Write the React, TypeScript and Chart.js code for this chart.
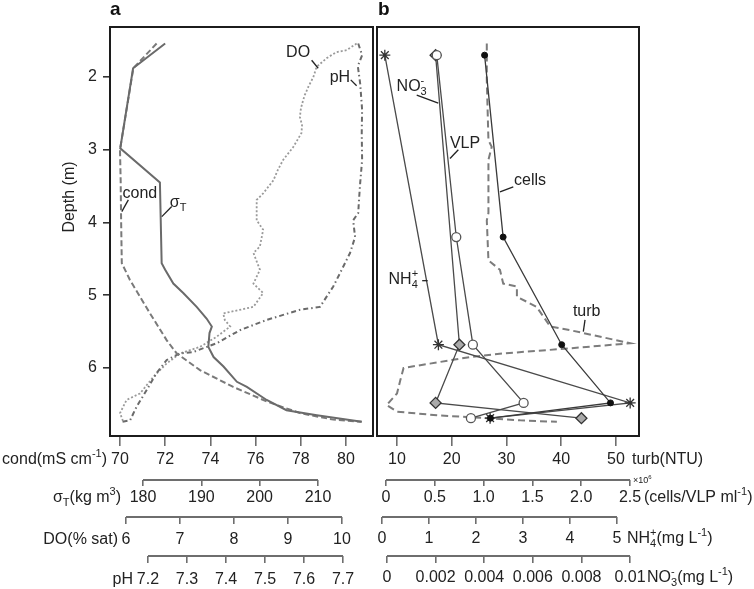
import React, { useEffect, useRef } from 'react';
import { Chart, registerables } from 'chart.js';
Chart.register(...registerables);

// ---------- Panel a data (x value, depth m) ----------
const condDepth = [1.54, 1.88, 3.0, 3.42, 3.97, 4.56, 4.79, 5.25, 5.62, 5.8, 6.03, 6.26, 6.46, 6.62, 6.71, 6.74];
const condValues = [71.62, 70.59, 70.0, 70.03, 70.05, 70.08, 70.44, 71.33, 72.07, 72.51, 73.54, 75.01, 76.49, 77.96, 79.44, 80.69];

const sigmaDepth = [1.54, 1.88, 2.98, 3.45, 4.56, 4.65, 4.84, 4.97, 5.16, 5.32, 5.43, 5.52, 5.71, 5.85, 5.98, 6.19, 6.26, 6.44, 6.58, 6.65, 6.74];
const sigmaValues = [183.8, 178.3, 176.1, 182.9, 183.2, 183.8, 185.2, 186.9, 189.2, 190.9, 191.8, 191.4, 191.2, 192.1, 193.8, 196.1, 197.8, 201.2, 204.6, 209.8, 217.5];

const doDepth = [1.54, 1.63, 1.66, 1.74, 1.86, 2.0, 2.13, 2.25, 2.32, 2.43, 2.55, 2.66, 2.77, 2.96, 3.14, 3.28, 3.42, 3.6, 3.69, 3.87, 3.97, 4.1, 4.33, 4.42, 4.65, 4.84, 4.97, 5.16, 5.25, 5.34, 5.43, 5.57, 5.71, 5.8, 5.94, 6.12, 6.35, 6.44, 6.62, 6.74];
const doValues = [10.27, 10.09, 9.89, 9.72, 9.53, 9.47, 9.38, 9.31, 9.28, 9.24, 9.22, 9.26, 9.25, 9.1, 8.91, 8.81, 8.73, 8.54, 8.42, 8.42, 8.42, 8.54, 8.48, 8.36, 8.48, 8.36, 8.54, 8.36, 7.8, 7.83, 7.93, 7.68, 7.37, 7.0, 6.75, 6.51, 6.26, 6.01, 5.89, 5.95];

const phDepth = [1.54, 1.7, 1.85, 2.09, 2.45, 2.77, 3.14, 3.46, 3.69, 3.87, 3.97, 4.2, 4.42, 4.7, 4.88, 5.16, 5.2, 5.34, 5.48, 5.66, 5.78, 5.8, 5.89, 6.07, 6.3, 6.53, 6.72, 6.74];
const phValues = [7.739, 7.749, 7.738, 7.744, 7.749, 7.748, 7.749, 7.744, 7.741, 7.739, 7.726, 7.731, 7.718, 7.692, 7.675, 7.641, 7.59, 7.504, 7.436, 7.376, 7.316, 7.282, 7.248, 7.222, 7.197, 7.171, 7.154, 7.133];

const depthTicks = [2, 3, 4, 5, 6];
const condTicks = [70, 72, 74, 76, 78, 80];
const condTickLabels = ['70', '72', '74', '76', '78', '80'];
const sigmaTicks = [180, 190, 200, 210];
const sigmaTickLabels = ['180', '190', '200', '210'];
const doTicks = [6, 7, 8, 9, 10];
const doTickLabels = ['6', '7', '8', '9', '10'];
const phTicks = [7.2, 7.3, 7.4, 7.5, 7.6, 7.7];
const phTickLabels = ['7.2', '7.3', '7.4', '7.5', '7.6', '7.7'];

// ---------- Panel b data ----------
const sampleDepth = [1.7, 4.2, 5.68, 6.48, 6.69];
const cellsValues = [1.01, 1.2, 1.8, 2.3, 1.07];
const vlpValues = [0.52, 0.72, 0.89, 1.41, 0.87];
const nh4Depth = [1.7, 5.68, 6.48, 6.69];
const nh4Values = [0.06, 1.2, 5.28, 2.3];
const no3Depth = [1.7, 5.68, 6.48, 6.69];
const no3Values = [0.002, 0.00298, 0.002, 0.008];
const turbDepth = [1.54, 2.04, 2.87, 2.96, 3.14, 3.87, 3.97, 4.52, 4.65, 4.84, 4.88, 5.02, 5.16, 5.43, 5.48, 5.66, 5.73, 5.8, 5.85, 5.94, 6.0, 6.17, 6.35, 6.51, 6.6, 6.65, 6.69, 6.72, 6.74];
const turbValues = [26.4, 26.4, 26.7, 27.3, 26.7, 26.7, 26.4, 26.7, 28.8, 29.4, 31.9, 31.9, 35.5, 38.0, 41.6, 52.6, 41.6, 29.4, 23.3, 16.0, 11.2, 10.6, 10.0, 8.1, 10.0, 17.3, 26.4, 32.5, 39.2];

const turbTicks = [10, 20, 30, 40, 50];
const turbTickLabels = ['10', '20', '30', '40', '50'];
const cellsTicks = [0, 0.5, 1, 1.5, 2, 2.5];
const cellsTickLabels = ['0', '0.5', '1.0', '1.5', '2.0', '2.5'];
const nh4Ticks = [0, 1, 2, 3, 4, 5];
const nh4TickLabels = ['0', '1', '2', '3', '4', '5'];
const no3Ticks = [0, 0.002, 0.004, 0.006, 0.008, 0.01];
const no3TickLabels = ['0', '0.002', '0.004', '0.006', '0.008', '0.01'];

// ---------- helpers ----------
const FONT = "'Liberation Sans', Arial, Helvetica, sans-serif";
const TXT = '#222';
const AXIS = '#6e6e6e';
const DEPTH_MIN = 1.313;
const DEPTH_MAX = 6.935;

const pts = (xs: number[], ys: number[]) => xs.map((x, i) => ({ x, y: ys[i] }));

type Part = { t: string; sub?: string; sup?: string };

function drawRich(ctx: CanvasRenderingContext2D, parts: Part[], x: number, y: number, size: number, align: 'left' | 'right' | 'center') {
  const big = `${size}px ${FONT}`;
  const small = `${Math.round(size * 0.66)}px ${FONT}`;
  let w = 0;
  const widths = parts.map((p) => {
    ctx.font = big;
    const a = ctx.measureText(p.t).width;
    ctx.font = small;
    const b = Math.max(p.sub ? ctx.measureText(p.sub).width : 0, p.sup ? ctx.measureText(p.sup).width : 0);
    w += a + b;
    return [a, b];
  });
  let cx = align === 'left' ? x : align === 'right' ? x - w : x - w / 2;
  ctx.textAlign = 'left';
  ctx.textBaseline = 'middle';
  ctx.fillStyle = TXT;
  parts.forEach((p, i) => {
    ctx.font = big;
    ctx.fillText(p.t, cx, y);
    cx += widths[i][0];
    ctx.font = small;
    if (p.sub) ctx.fillText(p.sub, cx, y + size * 0.32);
    if (p.sup) ctx.fillText(p.sup, cx, y - size * 0.36);
    cx += widths[i][1];
  });
}

type AxisSpec = { min: number; max: number; ticks: number[]; labels: string[]; weight: number; height: number; tl: number; pad: number };

function bottomAxis(a: AxisSpec) {
  return {
    type: 'linear',
    axis: 'x',
    position: 'bottom',
    weight: a.weight,
    min: a.min,
    max: a.max,
    afterBuildTicks: (s: any) => {
      s.ticks = a.ticks.map((v) => ({ value: v }));
    },
    afterFit: (s: any) => {
      s.height = a.height;
    },
    border: { display: false },
    grid: { drawOnChartArea: false, drawTicks: true, tickLength: a.tl, color: AXIS, lineWidth: 1.6 },
    ticks: {
      autoSkip: false,
      maxRotation: 0,
      minRotation: 0,
      padding: a.pad,
      color: TXT,
      font: { family: FONT, size: 16 },
      callback: (_v: any, i: number) => a.labels[i],
    },
  };
}

const labelY = (s: any, tl: number, pad: number) => s.top + tl + pad + 9.6;

function axisLine(ctx: CanvasRenderingContext2D, s: any, from: number, to: number) {
  ctx.strokeStyle = AXIS;
  ctx.lineWidth = 2;
  ctx.beginPath();
  ctx.moveTo(s.getPixelForValue(from), s.top);
  ctx.lineTo(s.getPixelForValue(to), s.top);
  ctx.stroke();
}

function leader(ctx: CanvasRenderingContext2D, sx: any, sy: any, x1: number, y1: number, x2: number, y2: number) {
  ctx.strokeStyle = '#222';
  ctx.lineWidth = 1.3;
  ctx.beginPath();
  ctx.moveTo(sx.getPixelForValue(x1), sy.getPixelForValue(y1));
  ctx.lineTo(sx.getPixelForValue(x2), sy.getPixelForValue(y2));
  ctx.stroke();
}

function frame(ctx: CanvasRenderingContext2D, ca: any) {
  ctx.strokeStyle = '#1c1c1c';
  ctx.lineWidth = 2;
  ctx.strokeRect(ca.left, ca.top, ca.right - ca.left, ca.bottom - ca.top);
}

const condSpec: AxisSpec = { min: 69.558, max: 81.195, ticks: condTicks, labels: condTickLabels, weight: 0, height: 44, tl: 10, pad: 4 };
const sigmaSpec: AxisSpec = { min: 174.343, max: 219.43, ticks: sigmaTicks, labels: sigmaTickLabels, weight: 1, height: 37, tl: 6, pad: 2 };
const doSpec: AxisSpec = { min: 5.704, max: 10.574, ticks: doTicks, labels: doTickLabels, weight: 2, height: 39, tl: 7, pad: 6 };
const phSpec: AxisSpec = { min: 7.1026, max: 7.7769, ticks: phTicks, labels: phTickLabels, weight: 3, height: 33, tl: 7, pad: 7 };

const turbSpec: AxisSpec = { min: 6.347, max: 54.2, ticks: turbTicks, labels: turbTickLabels, weight: 0, height: 44, tl: 10, pad: 4 };
const cellsSpec: AxisSpec = { min: -0.0922, max: 2.592, ticks: cellsTicks, labels: cellsTickLabels, weight: 1, height: 37, tl: 6, pad: 2 };
const nh4Spec: AxisSpec = { min: -0.1064, max: 5.468, ticks: nh4Ticks, labels: nh4TickLabels, weight: 2, height: 39, tl: 7, pad: 5 };
const no3Spec: AxisSpec = { min: -0.000412, max: 0.01037, ticks: no3Ticks, labels: no3TickLabels, weight: 3, height: 33, tl: 7, pad: 5 };

const plainLine = (color: string, width: number, dash: number[]) => ({
  borderColor: color,
  borderWidth: width,
  borderDash: dash,
  pointRadius: 0,
  pointHoverRadius: 0,
  fill: false,
  tension: 0,
  yAxisID: 'y',
});

function configA(): any {
  const panelPlugin = {
    id: 'panelA',
    afterDraw(chart: any) {
      const ctx: CanvasRenderingContext2D = chart.ctx;
      const ca = chart.chartArea;
      const s = chart.scales;
      ctx.save();
      frame(ctx, ca);
      axisLine(ctx, s.sigma, 180, 210);
      axisLine(ctx, s.do, 6, 10);
      axisLine(ctx, s.ph, 7.2, 7.7);
      // axis titles
      drawRich(ctx, [{ t: 'cond(mS cm', sup: '-1' }, { t: ')' }], s.cond.getPixelForValue(70) - 13, labelY(s.cond, condSpec.tl, condSpec.pad), 16, 'right');
      drawRich(ctx, [{ t: 'σ', sub: 'T' }, { t: '(kg m', sup: '3' }, { t: ')' }], s.sigma.getPixelForValue(180) - 22, labelY(s.sigma, sigmaSpec.tl, sigmaSpec.pad), 16, 'right');
      drawRich(ctx, [{ t: 'DO(% sat)' }], s.do.getPixelForValue(6) - 8, labelY(s.do, doSpec.tl, doSpec.pad), 16, 'right');
      drawRich(ctx, [{ t: 'pH' }], s.ph.getPixelForValue(7.2) - 15, labelY(s.ph, phSpec.tl, phSpec.pad), 16, 'right');
      // depth title
      ctx.save();
      ctx.translate(70, s.y.getPixelForValue(3.65));
      ctx.rotate(-Math.PI / 2);
      ctx.font = `16px ${FONT}`;
      ctx.fillStyle = TXT;
      ctx.textAlign = 'center';
      ctx.textBaseline = 'middle';
      ctx.fillText('Depth (m)', 0, 0);
      ctx.restore();
      // in-panel labels
      const X = s.cond;
      const Y = s.y;
      drawRich(ctx, [{ t: 'DO' }], X.getPixelForValue(77.88), Y.getPixelForValue(1.67), 16, 'center');
      leader(ctx, X, Y, 78.48, 1.77, 78.77, 1.88);
      drawRich(ctx, [{ t: 'pH' }], X.getPixelForValue(79.73), Y.getPixelForValue(2.01), 16, 'center');
      leader(ctx, X, Y, 80.21, 2.04, 80.47, 2.12);
      drawRich(ctx, [{ t: 'cond' }], X.getPixelForValue(70.88), Y.getPixelForValue(3.6), 16, 'center');
      leader(ctx, X, Y, 70.37, 3.69, 70.08, 3.85);
      drawRich(ctx, [{ t: 'σ', sub: 'T' }], X.getPixelForValue(72.57), Y.getPixelForValue(3.73), 16, 'center');
      leader(ctx, X, Y, 72.29, 3.78, 71.85, 3.92);
      // panel letter
      ctx.font = `bold 19px ${FONT}`;
      ctx.fillStyle = '#111';
      ctx.textAlign = 'left';
      ctx.textBaseline = 'alphabetic';
      ctx.fillText('a', ca.left, 15);
      ctx.restore();
    },
  };
  return {
    type: 'line',
    data: {
      datasets: [
        { label: 'sigmaT', data: pts(sigmaValues, sigmaDepth), xAxisID: 'sigma', ...plainLine('#6a6a6a', 2, []) },
        { label: 'cond', data: pts(condValues, condDepth), xAxisID: 'cond', ...plainLine('#7a7a7a', 2, [6, 3]) },
        { label: 'pH', data: pts(phValues, phDepth), xAxisID: 'ph', ...plainLine('#6a6a6a', 2, [5, 3, 1.5, 3]) },
        { label: 'DO', data: pts(doValues, doDepth), xAxisID: 'do', ...plainLine('#9a9a9a', 1.8, [2, 2]) },
      ],
    },
    options: {
      responsive: false,
      animation: false,
      devicePixelRatio: 1,
      events: [],
      layout: { padding: { top: 27, right: 3, left: 0, bottom: 0 } },
      plugins: { legend: { display: false }, tooltip: { enabled: false }, title: { display: false } },
      scales: {
        y: {
          type: 'linear',
          position: 'left',
          reverse: true,
          min: DEPTH_MIN,
          max: DEPTH_MAX,
          afterBuildTicks: (s: any) => {
            s.ticks = depthTicks.map((v) => ({ value: v }));
          },
          afterFit: (s: any) => {
            s.width = 110;
          },
          border: { display: false },
          grid: { drawOnChartArea: false, tickLength: 7, color: '#333', lineWidth: 1.6 },
          ticks: { padding: 6, color: TXT, font: { family: FONT, size: 16 }, callback: (v: any) => String(v) },
        },
        cond: bottomAxis(condSpec),
        sigma: bottomAxis(sigmaSpec),
        do: bottomAxis(doSpec),
        ph: bottomAxis(phSpec),
      },
    },
    plugins: [panelPlugin],
  };
}

function configB(): any {
  const panelPlugin = {
    id: 'panelB',
    afterDraw(chart: any) {
      const ctx: CanvasRenderingContext2D = chart.ctx;
      const ca = chart.chartArea;
      const s = chart.scales;
      ctx.save();
      frame(ctx, ca);
      axisLine(ctx, s.cells, 0, 2.5);
      axisLine(ctx, s.nh4, 0, 5);
      axisLine(ctx, s.no3, 0, 0.01);
      drawRich(ctx, [{ t: 'turb(NTU)' }], s.turb.getPixelForValue(50) + 16, labelY(s.turb, turbSpec.tl, turbSpec.pad), 16, 'left');
      drawRich(ctx, [{ t: '(cells/VLP ml', sup: '-1' }, { t: ')' }], s.cells.getPixelForValue(2.5) + 14, labelY(s.cells, cellsSpec.tl, cellsSpec.pad), 16, 'left');
      drawRich(ctx, [{ t: '×10', sup: '6' }], s.cells.getPixelForValue(2.5) + 3, s.cells.top + 1, 9, 'left');
      drawRich(ctx, [{ t: 'NH', sub: '4', sup: '+' }, { t: '(mg L', sup: '-1' }, { t: ')' }], s.nh4.getPixelForValue(5) + 10, labelY(s.nh4, nh4Spec.tl, nh4Spec.pad), 16, 'left');
      drawRich(ctx, [{ t: 'NO', sub: '3', sup: '-' }, { t: '(mg L', sup: '-1' }, { t: ')' }], s.no3.getPixelForValue(0.01) + 17, labelY(s.no3, no3Spec.tl, no3Spec.pad), 16, 'left');
      const X = s.turb;
      const Y = s.y;
      drawRich(ctx, [{ t: 'NO', sub: '3', sup: '-' }], X.getPixelForValue(12.68), Y.getPixelForValue(2.13), 16, 'center');
      leader(ctx, X, Y, 13.6, 2.25, 17.54, 2.36);
      drawRich(ctx, [{ t: 'VLP' }], X.getPixelForValue(22.42), Y.getPixelForValue(2.91), 16, 'center');
      leader(ctx, X, Y, 21.2, 3.0, 19.68, 3.12);
      drawRich(ctx, [{ t: 'cells' }], X.getPixelForValue(34.29), Y.getPixelForValue(3.42), 16, 'center');
      leader(ctx, X, Y, 31.24, 3.51, 28.81, 3.58);
      drawRich(ctx, [{ t: 'NH', sub: '4', sup: '+' }], X.getPixelForValue(11.15), Y.getPixelForValue(4.79), 16, 'center');
      leader(ctx, X, Y, 14.6, 4.8, 15.6, 4.8);
      drawRich(ctx, [{ t: 'turb' }], X.getPixelForValue(44.65), Y.getPixelForValue(5.23), 16, 'center');
      leader(ctx, X, Y, 44.34, 5.34, 44.03, 5.5);
      ctx.font = `bold 19px ${FONT}`;
      ctx.fillStyle = '#111';
      ctx.textAlign = 'left';
      ctx.textBaseline = 'alphabetic';
      ctx.fillText('b', ca.left + 1, 15);
      ctx.restore();
    },
  };
  const markerLine = (color: string) => ({
    borderColor: color,
    borderWidth: 1.3,
    fill: false,
    tension: 0,
    yAxisID: 'y',
    pointHoverRadius: 0,
  });
  return {
    type: 'line',
    data: {
      datasets: [
        { label: 'cells', data: pts(cellsValues, sampleDepth), xAxisID: 'cells', ...markerLine('#3a3a3a'), pointStyle: 'circle', pointRadius: 3, pointBackgroundColor: '#111', pointBorderColor: '#111', pointBorderWidth: 1 },
        { label: 'VLP', data: pts(vlpValues, sampleDepth), xAxisID: 'cells', ...markerLine('#4a4a4a'), pointStyle: 'circle', pointRadius: 4.5, pointBackgroundColor: '#fff', pointBorderColor: '#555', pointBorderWidth: 1.3 },
        { label: 'NO3', data: pts(no3Values, no3Depth), xAxisID: 'no3', ...markerLine('#4a4a4a'), pointStyle: 'rectRot', pointRadius: 5.5, pointBackgroundColor: '#aaa', pointBorderColor: '#333', pointBorderWidth: 1.3 },
        { label: 'NH4', data: pts(nh4Values, nh4Depth), xAxisID: 'nh4', ...markerLine('#4a4a4a'), pointStyle: 'star', pointRadius: 5.5, pointBorderColor: '#333', pointBorderWidth: 1.3 },
        { label: 'turb', data: pts(turbValues, turbDepth), xAxisID: 'turb', ...plainLine('#7c7c7c', 2, [7, 4]) },
      ],
    },
    options: {
      responsive: false,
      animation: false,
      devicePixelRatio: 1,
      events: [],
      layout: { padding: { top: 27, right: 115, left: 7, bottom: 0 } },
      plugins: { legend: { display: false }, tooltip: { enabled: false }, title: { display: false } },
      scales: {
        y: { type: 'linear', position: 'left', reverse: true, min: DEPTH_MIN, max: DEPTH_MAX, display: false },
        turb: bottomAxis(turbSpec),
        cells: bottomAxis(cellsSpec),
        nh4: bottomAxis(nh4Spec),
        no3: bottomAxis(no3Spec),
      },
    },
    plugins: [panelPlugin],
  };
}

export default function App() {
  const refA = useRef<HTMLCanvasElement>(null);
  const refB = useRef<HTMLCanvasElement>(null);
  useEffect(() => {
    const a = new Chart(refA.current as HTMLCanvasElement, configA());
    const b = new Chart(refB.current as HTMLCanvasElement, configB());
    return () => {
      a.destroy();
      b.destroy();
    };
  }, []);
  return (
    <div style={{ position: 'absolute', left: 0, top: 0, width: 754, height: 589, background: '#fff', overflow: 'hidden' }}>
      <canvas ref={refA} width={376} height={589} style={{ position: 'absolute', left: 0, top: 0, width: 376, height: 589 }} />
      <canvas ref={refB} width={384} height={589} style={{ position: 'absolute', left: 370, top: 0, width: 384, height: 589 }} />
    </div>
  );
}
